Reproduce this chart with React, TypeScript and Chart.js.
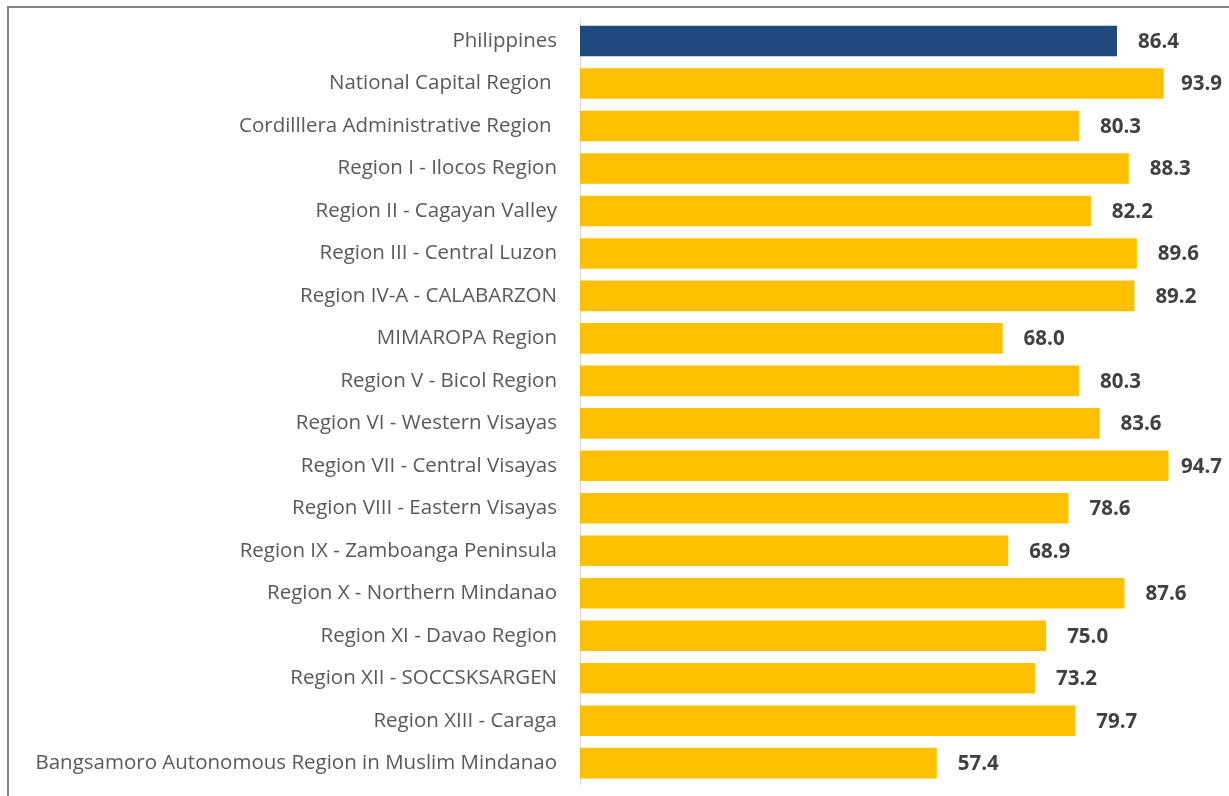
import React, { useEffect, useRef } from "react";
import { Chart, registerables } from "chart.js";

Chart.register(...registerables);

const categories = [
  "Philippines",
  "National Capital Region ",
  "Cordilllera Administrative Region ",
  "Region I - Ilocos Region",
  "Region II - Cagayan Valley",
  "Region III - Central Luzon",
  "Region IV-A - CALABARZON",
  "MIMAROPA Region",
  "Region V - Bicol Region",
  "Region VI - Western Visayas",
  "Region VII - Central Visayas",
  "Region VIII - Eastern Visayas",
  "Region IX - Zamboanga Peninsula",
  "Region X - Northern Mindanao",
  "Region XI - Davao Region",
  "Region XII - SOCCSKSARGEN",
  "Region XIII - Caraga",
  "Bangsamoro Autonomous Region in Muslim Mindanao",
];

const values = [86.4, 93.9, 80.3, 88.3, 82.2, 89.6, 89.2, 68.0, 80.3, 83.6, 94.7, 78.6, 68.9, 87.6, 75.0, 73.2, 79.7, 57.4];

const NAVY = "#1F497D";
const GOLD = "#FFC000";

const valueLabels = {
  id: "valueLabels",
  afterDatasetsDraw(chart: any) {
    const ctx = chart.ctx;
    const meta = chart.getDatasetMeta(0);
    ctx.save();
    ctx.font = "bold 20.5px 'Open Sans'";
    ctx.fillStyle = "#404040";
    ctx.textAlign = "left";
    ctx.textBaseline = "middle";
    meta.data.forEach((bar: any, i: number) => {
      const txt = values[i].toFixed(1);
      const w = ctx.measureText(txt).width;
      const x = Math.min(bar.x + 21, chart.width - 7 - w);
      ctx.fillText(txt, x, bar.y + 1);
    });
    ctx.restore();
  },
};

export default function App() {
  const ref = useRef<HTMLCanvasElement>(null);
  useEffect(() => {
    if (!ref.current) return;
    const chart = new Chart(ref.current, {
      type: "bar",
      data: {
        labels: categories,
        datasets: [
          {
            data: values,
            backgroundColor: values.map((_, i) => (i === 0 ? NAVY : GOLD)),
            borderWidth: 0,
            categoryPercentage: 1,
            barPercentage: 0.72,
          },
        ],
      },
      options: {
        indexAxis: "y",
        animation: false,
        responsive: false,
        maintainAspectRatio: false,
        layout: { padding: { left: 0, right: 27.5, top: 19.8, bottom: 11.6 } },
        plugins: {
          legend: { display: false },
          tooltip: { enabled: false },
        },
        scales: {
          x: {
            display: false,
            min: 0,
            max: 100,
          },
          y: {
            afterFit: (scale: any) => {
              scale.width = 580;
              scale.paddingTop = 0;
              scale.paddingBottom = 0;
            },
            grid: { display: false, drawTicks: false },
            border: { display: true, color: "#D9D9D9", width: 1 },
            ticks: {
              padding: 23,
              color: "#595959",
              font: { family: "'Open Sans'", size: 20.5 },
            },
          },
        },
      },
      plugins: [valueLabels],
    });
    return () => chart.destroy();
  }, []);
  return (
    <div style={{ position: "fixed", left: 0, top: 0, width: 1229, height: 796, background: "#fff" }}>
      <canvas ref={ref} width={1229} height={796} style={{ position: "absolute", left: 0, top: 0 }} />
      <div
        style={{
          position: "absolute",
          left: 7,
          top: 6,
          right: 0,
          bottom: 0,
          borderTop: "2px solid #878787",
          borderLeft: "2px solid #878787",
          pointerEvents: "none",
        }}
      />
    </div>
  );
}
